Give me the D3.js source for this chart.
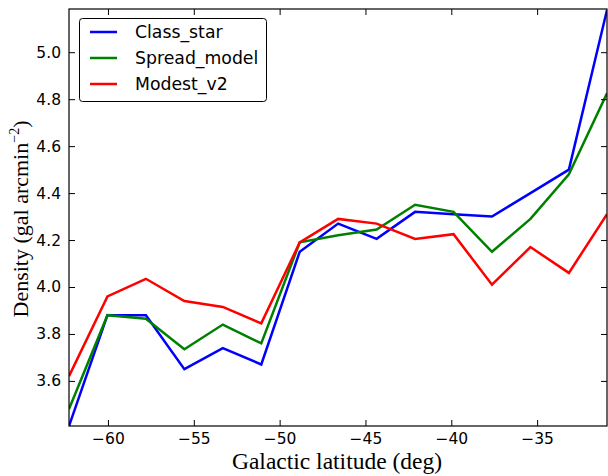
<!DOCTYPE html>
<html>
<head>
<meta charset="utf-8">
<script src="https://cdn.jsdelivr.net/npm/d3@7"></script>
<style>
  body { margin: 0; background: #fff; }
  svg { display: block; }
</style>
</head>
<body>
<div id="chart"></div>
<script>
// data
var lat = [-62.27, -60.03, -57.79, -55.55, -53.31, -51.07, -48.83, -46.59, -44.35, -42.11, -39.87, -37.63, -35.39, -33.15, -30.93];
var class_star = [3.408, 3.88, 3.88, 3.65, 3.74, 3.67, 4.15, 4.27, 4.205, 4.32, 4.31, 4.30, 4.40, 4.50, 5.18];
var spread_model = [3.48, 3.88, 3.865, 3.735, 3.84, 3.76, 4.19, 4.22, 4.245, 4.35, 4.32, 4.15, 4.29, 4.48, 4.825];
var modest_v2 = [3.62, 3.96, 4.035, 3.94, 3.915, 3.845, 4.19, 4.29, 4.27, 4.205, 4.225, 4.01, 4.17, 4.06, 4.31];
var names = ['Class_star', 'Spread_model', 'Modest_v2'];
var colors = ['#0000ff', '#008000', '#ff0000'];
var xticks = [-60, -55, -50, -45, -40, -35];
var yticks = [3.6, 3.8, 4.0, 4.2, 4.4, 4.6, 4.8, 5.0];

var W = 608, H = 476;
var pLeft = 69, pRight = 607, pTop = 9, pBottom = 426;

var svg = d3.select('#chart').append('svg')
  .attr('width', W).attr('height', H);

var x = d3.scaleLinear().domain([-62.27, -30.93]).range([pLeft, pRight]);
var y = d3.scaleLinear().domain([3.408, 5.184]).range([pBottom, pTop]);

var series = [class_star, spread_model, modest_v2];

var line = d3.line()
  .x(function(d, i) { return x(lat[i]); })
  .y(function(d) { return y(d); });

svg.append('clipPath').attr('id', 'clip')
  .append('rect').attr('x', pLeft).attr('y', pTop)
  .attr('width', pRight - pLeft).attr('height', pBottom - pTop);

var g = svg.append('g').attr('clip-path', 'url(#clip)');
for (var i = 0; i < series.length; i++) {
  g.append('path')
    .datum(series[i])
    .attr('fill', 'none')
    .attr('stroke', colors[i])
    .attr('stroke-width', 2.5)
    .attr('stroke-linejoin', 'miter')
    .attr('d', line);
}

// axes, ticks pointing inwards on all sides
var tickFont = '"DejaVu Sans", sans-serif';
svg.append('g').attr('transform', 'translate(0,' + pBottom + ')')
  .call(d3.axisBottom(x).tickValues(xticks).tickSizeInner(-6).tickSizeOuter(0).tickPadding(7)
    .tickFormat(function(d) { return '\u2212' + Math.abs(d); }));
svg.append('g').attr('transform', 'translate(0,' + pTop + ')')
  .call(d3.axisTop(x).tickValues(xticks).tickSizeInner(-6).tickSizeOuter(0).tickFormat(''));
svg.append('g').attr('transform', 'translate(' + pLeft + ',0)')
  .call(d3.axisLeft(y).tickValues(yticks).tickSizeInner(-6).tickSizeOuter(0).tickPadding(8)
    .tickFormat(d3.format('.1f')));
svg.append('g').attr('transform', 'translate(' + pRight + ',0)')
  .call(d3.axisRight(y).tickValues(yticks).tickSizeInner(-6).tickSizeOuter(0).tickFormat(''));

svg.selectAll('.domain').remove();
svg.selectAll('.tick line').attr('stroke', '#000').attr('stroke-width', 1);
svg.selectAll('.tick text').attr('font-family', tickFont).attr('font-size', 15.5).attr('fill', '#000');

svg.append('rect')
  .attr('x', pLeft).attr('y', pTop)
  .attr('width', pRight - pLeft).attr('height', pBottom - pTop)
  .attr('fill', 'none').attr('stroke', '#000').attr('stroke-width', 1.2);

// axis labels
svg.append('text')
  .attr('x', 337).attr('y', 469)
  .attr('text-anchor', 'middle')
  .attr('font-family', '"Liberation Serif", serif')
  .attr('font-size', 23.5)
  .text('Galactic latitude (deg)');

var ylab = svg.append('text')
  .attr('transform', 'translate(28,219) rotate(-90)')
  .attr('text-anchor', 'middle')
  .attr('font-family', '"Liberation Serif", serif')
  .attr('font-size', 22);
ylab.append('tspan').text('Density (gal arcmin');
ylab.append('tspan').attr('font-size', 14).attr('dy', -9).text('\u22122');
ylab.append('tspan').attr('dy', 9).text(')');

// legend
var leg = svg.append('g');
leg.append('rect')
  .attr('x', 79.5).attr('y', 18.5).attr('width', 187).attr('height', 83)
  .attr('rx', 3).attr('fill', '#fff').attr('stroke', '#000').attr('stroke-width', 1);
for (var k = 0; k < names.length; k++) {
  var ly = 32 + k * 26;
  leg.append('line')
    .attr('x1', 90).attr('x2', 117).attr('y1', ly).attr('y2', ly)
    .attr('stroke', colors[k]).attr('stroke-width', 2.5);
  leg.append('text')
    .attr('x', 135).attr('y', ly + 6)
    .attr('font-family', tickFont).attr('font-size', 17.3)
    .text(names[k]);
}
</script>
</body>
</html>
